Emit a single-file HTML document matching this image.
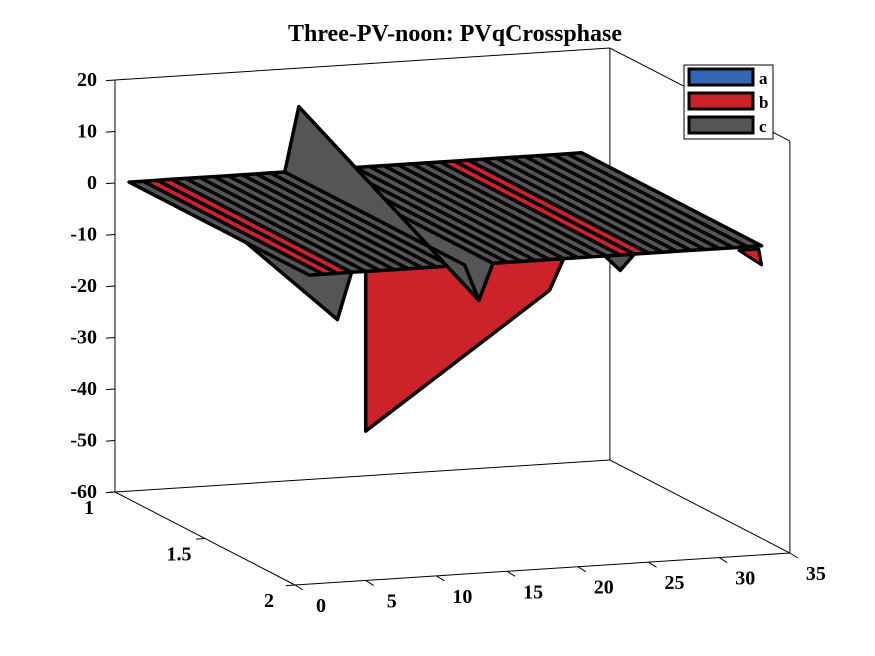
<!DOCTYPE html>
<html><head><meta charset="utf-8"><style>
html,body{margin:0;padding:0;background:#fff}
svg{display:block;font-family:"Liberation Serif",serif;font-weight:bold}
</style></head><body>
<svg id="chart" width="875" height="656" viewBox="0 0 875 656">
<text x="455" y="41" text-anchor="middle" font-size="24">Three-PV-noon: PVqCrossphase</text>
<g id="axes"></g>
<g id="surf"></g>
<g id="legend">
<rect x="684" y="65" width="89" height="74" fill="#fff" stroke="#000" stroke-width="1"/>
<g><rect x="689" y="69" width="64" height="16" fill="#3466b8" stroke="#000" stroke-width="3"/><text x="759" y="84" font-size="17">a</text></g>
<g><rect x="689" y="93" width="64" height="16" fill="#cc2229" stroke="#000" stroke-width="3"/><text x="759" y="108" font-size="17">b</text></g>
<g><rect x="689" y="117" width="64" height="16" fill="#555557" stroke="#000" stroke-width="3"/><text x="759" y="132" font-size="17">c</text></g>
</g>
</svg>
<script>
// data
const zTicks = [20,10,0,-10,-20,-30,-40,-50,-60];
const xTicks = [0,5,10,15,20,25,30,35];
const yTicks = [1,1.5,2];
const xGrid = [1,2,3,4,5,6,7,8,9,10,11,12,13,14,15,16,17,18,19,20,21,22,23,24,25,26,27,28,29,30,31,32,33];
const redStrips = [2,23];           // x-intervals where series b shows on top
const bDeepX = [5,18,19];           // series b front-row dip
const bDeepZ = [-31,-6,0];
const cFinX = 13, cFinBack = 12.5, cFinFront = -7;
const cDipX = [3,13,23];            // series c front-row dips
const cDipZ = [-9,-7,-3];
const bEndDipX = 33, bEndDipZ = -3.7;

const NS="http://www.w3.org/2000/svg";
function P(x,y,z){return [115+14.14*x+180*(y-1), 492-0.914*x+93*(y-1)-5.15*(z+60)];}
function pts(a){return a.map(p=>P(p[0],p[1],p[2]).map(v=>v.toFixed(1)).join(',')).join(' ');}
function poly(g,a,fill,name,sw){const e=document.createElementNS(NS,'polygon');e.setAttribute('points',pts(a));e.setAttribute('fill',fill);e.setAttribute('stroke','#000');e.setAttribute('stroke-width',sw||3.5);e.setAttribute('stroke-linejoin','round');


g.appendChild(e);return e;}
function line(g,a,b,name,w){const e=document.createElementNS(NS,'line');e.setAttribute('x1',a[0]);e.setAttribute('y1',a[1]);e.setAttribute('x2',b[0]);e.setAttribute('y2',b[1]);e.setAttribute('stroke','#000');e.setAttribute('stroke-width',w||1);


g.appendChild(e);}
function text(g,x,y,s,anchor,name){const e=document.createElementNS(NS,'text');e.setAttribute('x',x);e.setAttribute('y',y);e.setAttribute('font-size','20');e.setAttribute('text-anchor',anchor);e.textContent=s;


g.appendChild(e);}
const ax=document.getElementById('axes');
line(ax,P(0,1,20),P(0,1,-60),'z-axis-line');
line(ax,P(0,1,20),P(35,1,20),'box-top-back');
line(ax,P(35,1,20),P(35,1,-60),'box-back-right');
line(ax,P(35,1,20),P(35,2,20),'box-top-right');
line(ax,P(35,2,20),P(35,2,-60),'box-front-right');
line(ax,P(0,1,-60),P(35,1,-60),'floor-back');
line(ax,P(35,1,-60),P(35,2,-60),'floor-right');
line(ax,P(0,1,-60),P(0,2,-60),'y-axis-line');
line(ax,P(0,2,-60),P(35,2,-60),'x-axis-line');
zTicks.forEach(z=>{const p=P(0,1,z);line(ax,p,[p[0]-9,p[1]+0.6],'z-tick');text(ax,p[0]-18,p[1]+6,String(z),'end','z-tick-label');});
xTicks.forEach(x=>{const p=P(x,2,-60);line(ax,p,[p[0]+8,p[1]+5],'x-tick');text(ax,p[0]+26,p[1]+27,String(x),'middle','x-tick-label');});
yTicks.forEach(y=>{const p=P(0,y,-60);line(ax,p,[p[0]-9,p[1]+0.6],'y-tick');text(ax,p[0]-26,p[1]+22,String(y),'middle','y-tick-label');});

const g=document.getElementById('surf');
const GREY='#555557',RED='#cc2229';
poly(g,[[bDeepX[0],2,0],[bDeepX[0],2,bDeepZ[0]],[bDeepX[1],2,bDeepZ[1]],[bDeepX[2],2,bDeepZ[2]]],RED,'series-b-dip');
poly(g,[[2.6,1.3,0],[cDipX[0],2,cDipZ[0]],[cDipX[0]+1,2,0]],GREY,'series-c-dip-left');
for(let i=1;i<cDipX.length;i++){poly(g,[[cDipX[i]-1,2,0],[cDipX[i],1.8,0],[cDipX[i],2,cDipZ[i]],[cDipX[i]+1,2,0]],GREY,'series-c-dip');}
for(let i=0;i<xGrid.length-1;i++){const x0=xGrid[i],x1=xGrid[i+1];
 if(x0===cFinX-1) continue;
 const red=redStrips.some(r=>x0===r||x0===r+1);
 if(x0===cFinX){poly(g,[[x0,1,cFinBack],[x1,1,0],[x1,2,0],[x0,2,cFinFront]],GREY,'plane-strip',3.5);continue;}
 poly(g,[[x0,1,0],[x1,1,0],[x1,2,0],[x0,2,0]],red?RED:GREY,'plane-strip',3.5);}
poly(g,[[cFinX-1,1,0],[cFinX,1,cFinBack],[cFinX,2,cFinFront],[cFinX-1,2,0]],GREY,'series-c-fin');
poly(g,[[bEndDipX-1.6,2,-0.6],[bEndDipX-0.2,2,-0.6],[bEndDipX,2,bEndDipZ]],RED,'series-b-end-dip',3);
</script>
</body></html>
